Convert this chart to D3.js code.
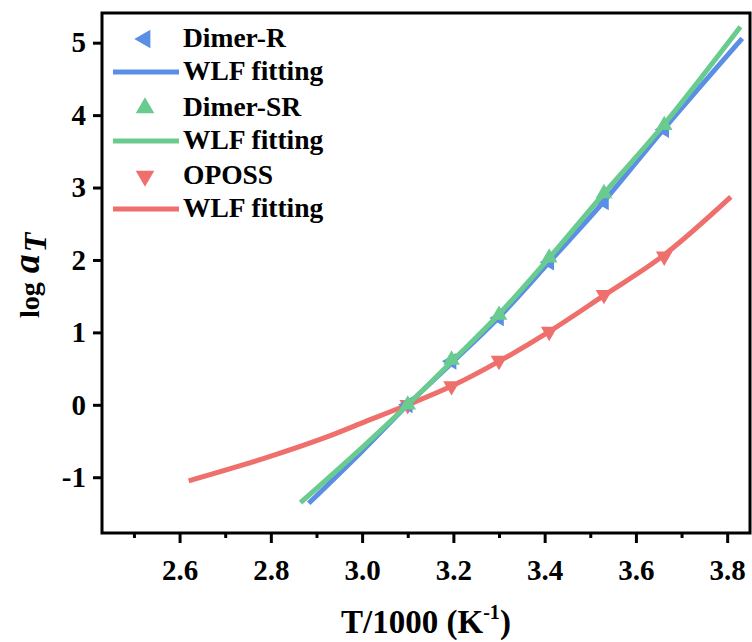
<!DOCTYPE html>
<html>
<head>
<meta charset="utf-8">
<script src="https://cdn.jsdelivr.net/npm/d3@7"></script>
<style>
  body { margin: 0; background: #fff; }
  text { font-family: "Liberation Serif", "Times New Roman", serif; font-weight: bold; }
</style>
</head>
<body>
<div id="chart"></div>
<script>
// measured points (T/1000 vs log aT)
const tempX = [3.10, 3.196, 3.30, 3.41, 3.53, 3.662];
const dimerR = [0, 0.60, 1.20, 1.97, 2.80, 3.80];
const dimerSR = [0, 0.62, 1.24, 2.03, 2.92, 3.86];
const oposs = [0, 0.26, 0.61, 1.01, 1.52, 2.05];

// WLF fitting curves
const fitRX = [2.883, 3.0, 3.1, 3.2, 3.3, 3.41, 3.53, 3.66, 3.833];
const fitRY = [-1.36, -0.64, 0, 0.60, 1.21, 1.97, 2.81, 3.80, 5.06];
const fitSRX = [2.865, 3.0, 3.1, 3.2, 3.3, 3.41, 3.53, 3.66, 3.829];
const fitSRY = [-1.35, -0.59, 0, 0.62, 1.25, 2.03, 2.92, 3.86, 5.22];
const fitOX = [2.62, 2.78, 2.92, 3.0, 3.1, 3.2, 3.3, 3.41, 3.53, 3.66, 3.808];
const fitOY = [-1.05, -0.75, -0.45, -0.25, 0, 0.27, 0.60, 1.01, 1.51, 2.06, 2.87];

const xTicks = [2.6, 2.8, 3.0, 3.2, 3.4, 3.6, 3.8];
const xMinor = [2.5, 2.7, 2.9, 3.1, 3.3, 3.5, 3.7];
const yTicks = [-1, 0, 1, 2, 3, 4, 5];

const legendNames = ["Dimer-R", "WLF fitting", "Dimer-SR", "WLF fitting", "OPOSS", "WLF fitting"];

const blue = "#5b8fe5", green = "#6acb8e", red = "#ef6f6c";

const width = 752, height = 642;
const svg = d3.select("#chart").append("svg")
  .attr("width", width)
  .attr("height", height);

const x = d3.scaleLinear().domain([2.43, 3.85]).range([102, 750]);
const y = d3.scaleLinear().domain([-1.77, 5.41]).range([533, 13]);

// axes
const xAxis = svg.append("g")
  .attr("transform", "translate(0,533)")
  .call(d3.axisBottom(x).tickValues(xTicks).tickSize(10).tickPadding(16).tickFormat(d3.format(".1f")));
const xMin = svg.append("g")
  .attr("transform", "translate(0,533)")
  .call(d3.axisBottom(x).tickValues(xMinor).tickSize(5).tickFormat(""));
const yAxis = svg.append("g")
  .attr("transform", "translate(102,0)")
  .call(d3.axisLeft(y).tickValues(yTicks).tickSize(9).tickPadding(7).tickFormat(d => String(d)));

[xAxis, xMin, yAxis].forEach(g => {
  g.select(".domain").remove();
  g.selectAll(".tick line").attr("stroke", "#000").attr("stroke-width", 3);
  g.selectAll(".tick text").attr("font-size", 29).attr("fill", "#000");
});

// frame
svg.append("rect")
  .attr("x", x.range()[0]).attr("y", y.range()[1])
  .attr("width", x.range()[1] - x.range()[0])
  .attr("height", y.range()[0] - y.range()[1])
  .attr("fill", "none").attr("stroke", "#000").attr("stroke-width", 3);

const line = d3.line()
  .x(d => x(d[0])).y(d => y(d[1]))
  .curve(d3.curveCatmullRom.alpha(0.5));

const plot = svg.append("g");

const series = [
  { fx: fitOX, fy: fitOY, vals: oposs, color: red, rot: 180 },
  { fx: fitRX, fy: fitRY, vals: dimerR, color: blue, rot: -90 },
  { fx: fitSRX, fy: fitSRY, vals: dimerSR, color: green, rot: 0 }
];

const tri = d3.symbol().type(d3.symbolTriangle).size(120);

series.forEach(s => {
  plot.append("path")
    .datum(d3.zip(s.fx, s.fy))
    .attr("d", line)
    .attr("fill", "none")
    .attr("stroke", s.color)
    .attr("stroke-width", 5);
  plot.selectAll(null)
    .data(d3.zip(tempX, s.vals))
    .enter().append("path")
    .attr("d", tri)
    .attr("fill", s.color)
    .attr("transform", d => `translate(${x(d[0])},${y(d[1])}) rotate(${s.rot})`);
});

// legend
const legY = [39, 72, 108, 141, 176, 209];
const legColors = [blue, blue, green, green, red, red];
const legRot = [-90, null, 0, null, 180, null];
const legTri = d3.symbol().type(d3.symbolTriangle).size(150);
const leg = svg.append("g");
legendNames.forEach((name, i) => {
  if (legRot[i] === null) {
    leg.append("line")
      .attr("x1", 113).attr("x2", 179)
      .attr("y1", legY[i]).attr("y2", legY[i])
      .attr("stroke", legColors[i]).attr("stroke-width", 5);
  } else {
    leg.append("path")
      .attr("d", legTri)
      .attr("fill", legColors[i])
      .attr("transform", `translate(145,${legY[i]}) rotate(${legRot[i]})`);
  }
  leg.append("text")
    .attr("x", 183).attr("y", legY[i] + 8)
    .attr("font-size", 27.5)
    .text(name);
});

// axis titles
const xt = svg.append("text")
  .attr("x", 426).attr("y", 633)
  .attr("text-anchor", "middle")
  .attr("font-size", 33);
xt.append("tspan").text("T/1000 (K");
xt.append("tspan").attr("font-size", 20).attr("dy", -14).text("-1");
xt.append("tspan").attr("dy", 14).text(")");

const yt = svg.append("text")
  .attr("transform", "translate(39,318) rotate(-90)")
  .attr("text-anchor", "start")
  .attr("font-size", 28);
yt.append("tspan").text("log");
yt.append("tspan").attr("dx", 9).attr("font-style", "italic").attr("font-size", 38).text("a");
yt.append("tspan").attr("dx", 2).attr("font-style", "italic").attr("font-size", 32).attr("dy", 7).text("T");
</script>
</body>
</html>
